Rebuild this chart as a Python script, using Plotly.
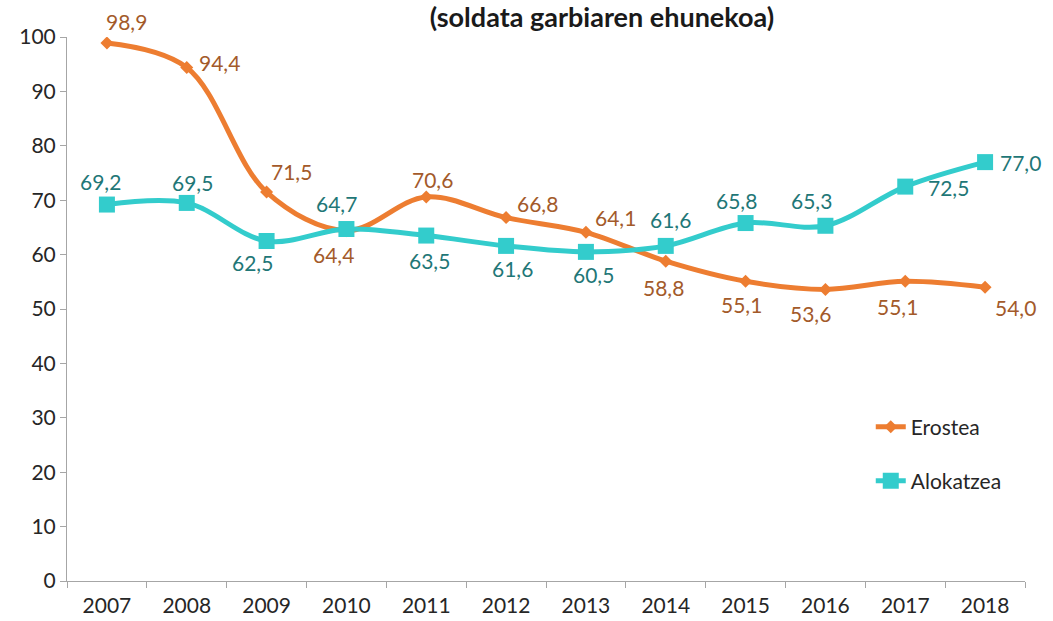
import plotly.graph_objects as go

years = ["2007", "2008", "2009", "2010", "2011", "2012", "2013", "2014", "2015", "2016", "2017", "2018"]
erostea = [98.9, 94.4, 71.5, 64.4, 70.6, 66.8, 64.1, 58.8, 55.1, 53.6, 55.1, 54.0]
alokatzea = [69.2, 69.5, 62.5, 64.7, 63.5, 61.6, 60.5, 61.6, 65.8, 65.3, 72.5, 77.0]
y_ticks = [0, 10, 20, 30, 40, 50, 60, 70, 80, 90, 100]

# label offsets in pixels (dx right, dy down) — style only
ero_off = [(20, -21), (33, -5), (25, -21), (-13, 24), (6, -17), (31, -14), (30, -15),
           (-2, 26), (-4, 23), (-15, 24), (-8, 25), (30, 20)]
alo_off = [(-6, -23), (6, -20), (-14, 21), (-10, -26), (3, 25), (6, 23), (8, 23),
           (5, -26), (-9, -23), (-14, -25), (43, 1), (35, 0)]

ORANGE = "#ED7D31"
CYAN = "#33CCCC"
ORANGE_LBL = "#A35A2A"
CYAN_LBL = "#1F7777"
FONT = "Lato"
GREY = "#A6A6A6"
FS = 21

fig = go.Figure()
fig.add_trace(go.Scatter(
    x=years, y=erostea, name="Erostea", mode="lines+markers",
    line=dict(color=ORANGE, width=5, shape="spline", smoothing=1),
    marker=dict(symbol="diamond", size=10, color=ORANGE),
    legend="legend",
))
fig.add_trace(go.Scatter(
    x=years, y=alokatzea, name="Alokatzea", mode="lines+markers",
    line=dict(color=CYAN, width=5, shape="spline", smoothing=1),
    marker=dict(symbol="square", size=16, color=CYAN),
    legend="legend2",
))

def fmt(v):
    return f"{v:.1f}".replace(".", ",")

annotations = []
for i, (v, (dx, dy)) in enumerate(zip(erostea, ero_off)):
    annotations.append(dict(x=i, y=v, xref="x", yref="y", text=fmt(v), showarrow=False,
                            xshift=dx, yshift=-dy, font=dict(family=FONT, size=FS, color=ORANGE_LBL)))
for i, (v, (dx, dy)) in enumerate(zip(alokatzea, alo_off)):
    annotations.append(dict(x=i, y=v, xref="x", yref="y", text=fmt(v), showarrow=False,
                            xshift=dx, yshift=-dy, font=dict(family=FONT, size=FS, color=CYAN_LBL)))

fig.update_layout(
    width=1053, height=621,
    margin=dict(l=67, r=28, t=37, b=40),
    paper_bgcolor="white", plot_bgcolor="white",
    font=dict(family=FONT, size=FS, color="#262626"),
    title=dict(text="<b>(soldata garbiaren ehunekoa)</b>", x=602/1053, xanchor="center",
               y=1 - 18/621, yanchor="middle", font=dict(family=FONT, size=27, color="#1a1a1a")),
    annotations=annotations,
    legend=dict(x=0.839, y=(581 - 427) / 544, xanchor="left", yanchor="middle",
                bgcolor="rgba(0,0,0,0)", font=dict(family=FONT, size=FS, color="#262626")),
    legend2=dict(x=0.839, y=(581 - 481) / 544, xanchor="left", yanchor="middle",
                 bgcolor="rgba(0,0,0,0)", font=dict(family=FONT, size=FS, color="#262626")),
    showlegend=True,
)
fig.update_xaxes(
    type="category", range=[-0.5, 11.5], showgrid=False, showline=True, linecolor=GREY,
    linewidth=1, ticks="outside", tickson="boundaries", ticklen=6, tickcolor=GREY,
    ticklabelstandoff=6, automargin=False,
    tickfont=dict(family=FONT, size=FS, color="#262626"), zeroline=False,
)
fig.update_yaxes(
    range=[0, 100], tickvals=y_ticks, showgrid=False, showline=True, linecolor=GREY,
    linewidth=1, ticks="outside", ticklen=6, tickcolor=GREY, zeroline=False,
    automargin=False,
    tickfont=dict(family=FONT, size=FS, color="#262626"),
)
fig.write_html("out.html")
